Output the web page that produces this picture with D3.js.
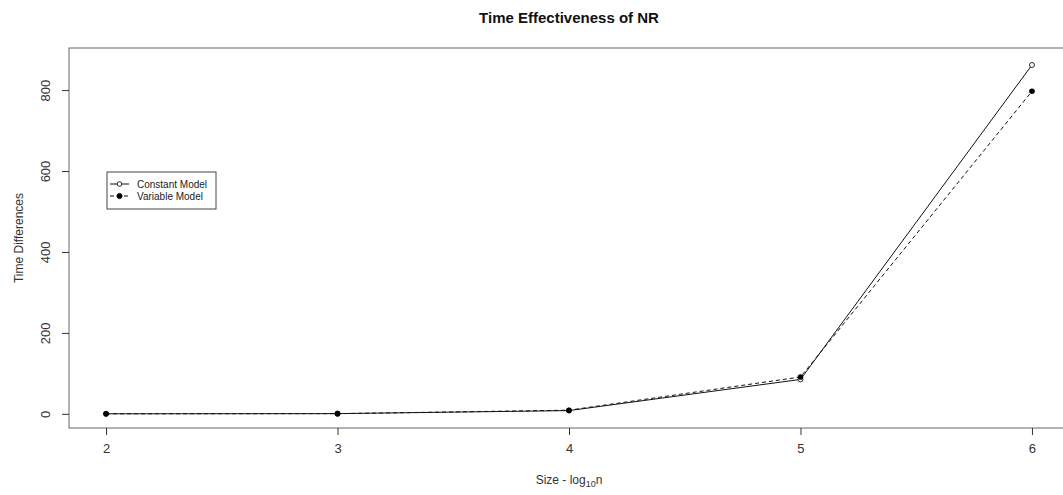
<!DOCTYPE html>
<html>
<head>
<meta charset="utf-8">
<script src="https://cdn.jsdelivr.net/npm/d3@7"></script>
<style>
  html, body { margin: 0; padding: 0; background: #fff; }
  svg { display: block; font-family: "Liberation Sans", Arial, sans-serif; }
</style>
</head>
<body>
<svg id="chart" width="1063" height="495"></svg>
<script>
// ---- data ----
const sizes = [2, 3, 4, 5, 6];
const constantModel = [0.1, 0.5, 8, 85, 862];
const variableModel = [0.1, 0.5, 9, 91, 797];
const xTicks = [2, 3, 4, 5, 6];
const yTicks = [0, 200, 400, 600, 800];
const seriesNames = ["Constant Model", "Variable Model"];

// ---- layout ----
const svg = d3.select("#chart");
const pLeft = 69, pRight = 1069, pTop = 48, pBottom = 428;

const xExt = 0.04 * (d3.max(sizes) - d3.min(sizes));
const x = d3.scaleLinear()
  .domain([d3.min(sizes) - xExt, d3.max(sizes) + xExt])
  .range([pLeft, pRight]);
const y = d3.scaleLinear()
  .domain([-35, 904])
  .range([pBottom, pTop]);

// plot box
svg.append("rect")
  .attr("x", pLeft).attr("y", pTop)
  .attr("width", pRight - pLeft).attr("height", pBottom - pTop)
  .attr("fill", "none").attr("stroke", "#666").attr("stroke-width", 1);

// x axis
const xAxis = d3.axisBottom(x).tickValues(xTicks).tickSize(7).tickPadding(9).tickFormat(d3.format("d"));
const gx = svg.append("g").attr("transform", `translate(0,${pBottom})`).call(xAxis);
gx.select(".domain").remove();
gx.selectAll("line").attr("stroke", "#333");
gx.selectAll("text").attr("font-size", 13).attr("fill", "#333")
  .attr("font-family", "Liberation Sans, Arial, sans-serif");

// y axis
const yAxis = d3.axisLeft(y).tickValues(yTicks).tickSize(7).tickFormat(d3.format("d"));
const gy = svg.append("g").attr("transform", `translate(${pLeft},0)`).call(yAxis);
gy.select(".domain").remove();
gy.selectAll("line").attr("stroke", "#333");
gy.selectAll("text")
  .attr("font-size", 13).attr("fill", "#333")
  .attr("font-family", "Liberation Sans, Arial, sans-serif")
  .attr("x", null)
  .attr("text-anchor", "middle")
  .attr("transform", "translate(-24,0) rotate(-90)")
  .attr("dy", "0.35em");

// titles
svg.append("text")
  .attr("x", (pLeft + pRight) / 2).attr("y", 23)
  .attr("text-anchor", "middle")
  .attr("font-size", 15).attr("font-weight", "bold").attr("fill", "#111")
  .text("Time Effectiveness of NR");

const xl = svg.append("text")
  .attr("x", (pLeft + pRight) / 2).attr("y", 484)
  .attr("text-anchor", "middle")
  .attr("font-size", 12).attr("fill", "#333");
xl.append("tspan").text("Size - log");
xl.append("tspan").attr("font-size", 9).attr("dy", 3).text("10");
xl.append("tspan").attr("dy", -3).text("n");

svg.append("text")
  .attr("transform", `translate(23,${(pTop + pBottom) / 2}) rotate(-90)`)
  .attr("text-anchor", "middle")
  .attr("font-size", 12).attr("fill", "#333")
  .text("Time Differences");

// lines
const pts = (vals) => sizes.map((s, i) => [s, vals[i]]);
const line = d3.line().x(d => x(d[0])).y(d => y(d[1]));

svg.append("path").datum(pts(constantModel))
  .attr("d", line).attr("fill", "none").attr("stroke", "#111").attr("stroke-width", 1);
svg.append("path").datum(pts(variableModel))
  .attr("d", line).attr("fill", "none").attr("stroke", "#111").attr("stroke-width", 1)
  .attr("stroke-dasharray", "4,3");

svg.append("g").selectAll("circle").data(pts(constantModel)).join("circle")
  .attr("cx", d => x(d[0])).attr("cy", d => y(d[1])).attr("r", 2.5)
  .attr("fill", "#fff").attr("stroke", "#111").attr("stroke-width", 0.9);
svg.append("g").selectAll("circle").data(pts(variableModel)).join("circle")
  .attr("cx", d => x(d[0])).attr("cy", d => y(d[1])).attr("r", 2.8)
  .attr("fill", "#000");

// legend
const lg = svg.append("g");
lg.append("rect").attr("x", 107).attr("y", 172).attr("width", 109).attr("height", 37)
  .attr("fill", "#fff").attr("stroke", "#444").attr("stroke-width", 1);
seriesNames.forEach((name, i) => {
  const yy = 184 + i * 12;
  lg.append("line").attr("x1", 110).attr("x2", 129).attr("y1", yy).attr("y2", yy)
    .attr("stroke", "#111").attr("stroke-width", 1)
    .attr("stroke-dasharray", i === 1 ? "4,3" : null);
  lg.append("circle").attr("cx", 119.5).attr("cy", yy).attr("r", i === 1 ? 2.6 : 2.3)
    .attr("fill", i === 1 ? "#000" : "#fff").attr("stroke", "#111").attr("stroke-width", 0.9);
  lg.append("text").attr("x", 137).attr("y", yy).attr("dy", "0.35em")
    .attr("font-size", 10).attr("fill", "#222").text(name);
});
</script>
</body>
</html>
